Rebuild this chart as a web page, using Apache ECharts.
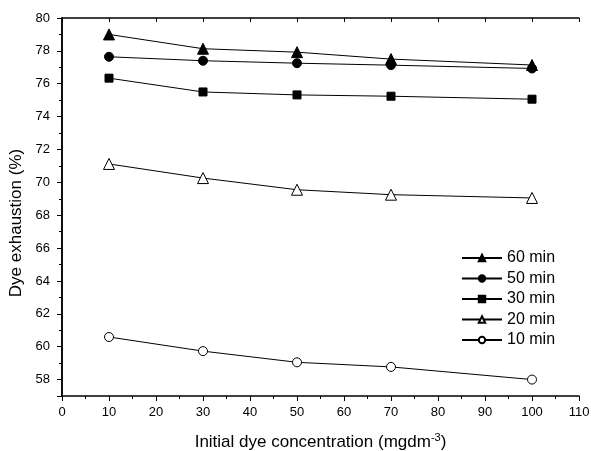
<!DOCTYPE html>
<html><head><meta charset="utf-8">
<script src="https://cdn.jsdelivr.net/npm/echarts@6/dist/echarts.min.js"></script>
<style>html,body{margin:0;padding:0;background:#fff}#c{width:591px;height:451px}</style>
</head><body><div id="c"></div>
<script>
var concentrations = [10, 30, 50, 70, 100];
var seriesNames = ['60 min', '50 min', '30 min', '20 min', '10 min'];
var min60 = [79.0, 78.13, 77.92, 77.5, 77.14];
var min50 = [77.64, 77.4, 77.25, 77.13, 76.93];
var min30 = [76.34, 75.5, 75.32, 75.24, 75.06];
var min20 = [71.12, 70.26, 69.55, 69.25, 69.05];
var min10 = [60.59, 59.73, 59.05, 58.77, 58.0];
var values = [min60, min50, min30, min20, min10];
var symbols = ['triangle', 'circle', 'rect', 'triangle', 'circle'];
var symbolSizes = [11, 9, 8, 11, 9];
var filled = [true, true, true, false, false];

var FONT = 'Liberation Sans, Arial, sans-serif';
var chart = echarts.init(document.getElementById('c'));
var series = values.map(function (v, i) {
  return {
    name: seriesNames[i],
    type: 'line',
    xAxisIndex: 0, yAxisIndex: 0,
    data: concentrations.map(function (x, j) { return [x, v[j]]; }),
    symbol: symbols[i],
    symbolSize: symbolSizes[i],
    showAllSymbol: true,
    lineStyle: { color: '#000', width: 1 },
    itemStyle: { color: filled[i] ? '#000' : '#fff', borderColor: '#000', borderWidth: 1 },
    emphasis: { disabled: true },
    animation: false
  };
});
var axLine = { show: true, lineStyle: { color: '#000', width: 1.5 } };
chart.setOption({
  animation: false,
  grid: { left: 62, right: 12, top: 18, bottom: 55, containLabel: false, outerBoundsMode: 'none' },
  legend: {
    data: seriesNames,
    orient: 'vertical',
    left: 456, top: 245,
    itemWidth: 40, itemHeight: 8, itemGap: 4.5,
    textStyle: { fontFamily: FONT, fontSize: 16, color: '#000' },
    inactiveColor: '#000'
  },
  xAxis: [{
    type: 'value', min: 0, max: 110, interval: 10, position: 'bottom',
    name: 'Initial dye concentration (mgdm{sup|-3})',
    nameLocation: 'middle', nameGap: 36,
    nameTextStyle: { fontFamily: FONT, fontSize: 17, color: '#000',
      rich: { sup: { fontFamily: FONT, fontSize: 11, color: '#000', verticalAlign: 'top', padding: [0, 0, 10, 0] } } },
    axisLine: axLine,
    axisTick: { show: true, inside: false, length: 5, lineStyle: { color: '#000' } },
    minorTick: { show: true, splitNumber: 2, length: 3, lineStyle: { color: '#000' } },
    axisLabel: { fontFamily: FONT, fontSize: 13, color: '#000', margin: 10 },
    splitLine: { show: false }
  }, {
    type: 'value', min: 0, max: 110, interval: 10, position: 'top',
    axisLine: axLine,
    axisTick: { show: true, inside: true, length: 4, lineStyle: { color: '#000' } },
    minorTick: { show: false },
    axisLabel: { show: false },
    splitLine: { show: false }
  }],
  yAxis: [{
    type: 'value', min: 57, max: 80, splitNumber: 12, position: 'left',
    name: 'Dye exhaustion (%)',
    nameLocation: 'middle', nameGap: 36,
    nameTextStyle: { fontFamily: FONT, fontSize: 17, color: '#000', padding: [0, 32, 0, 0] },
    axisLine: axLine,
    axisTick: { show: true, inside: false, length: 5, lineStyle: { color: '#000' } },
    minorTick: { show: true, splitNumber: 2, length: 3, lineStyle: { color: '#000' } },
    axisLabel: { fontFamily: FONT, fontSize: 13, color: '#000', margin: 12, showMinLabel: false },
    splitLine: { show: false }
  }, {
    type: 'value', min: 57, max: 80, splitNumber: 12, position: 'right',
    axisLine: axLine,
    axisTick: { show: true, inside: true, length: 4, lineStyle: { color: '#000' } },
    minorTick: { show: false },
    axisLabel: { show: false },
    splitLine: { show: false }
  }],
  series: series
});
</script></body></html>
